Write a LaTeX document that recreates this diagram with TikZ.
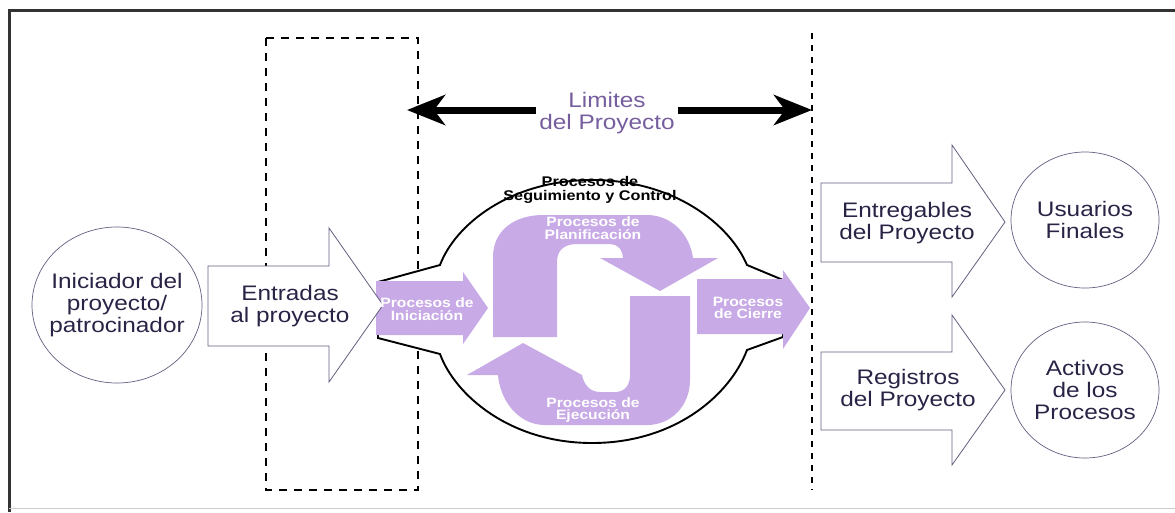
\documentclass[tikz,border=0pt]{standalone}
\usepackage{fontspec}
\setmainfont{Liberation Sans}[FakeStretch=1.16]
\usepackage{tikz}
\usetikzlibrary{arrows.meta,shapes.geometric}
\definecolor{lila}{RGB}{200,170,230}
\definecolor{tinte}{RGB}{43,35,70}
\definecolor{limite}{RGB}{118,94,158}
\definecolor{trazo}{RGB}{100,94,128}

\begin{document}
\begin{tikzpicture}[x=1pt,y=-1pt,
  blockarrow/.style={draw=trazo,line width=0.8pt,fill=white,line join=miter},
  procarrow/.style={fill=lila},
  roundnode/.style={ellipse,draw=trazo,line width=0.7pt,minimum width=148pt,minimum height=136pt,inner sep=0pt},
  lbl/.style={align=center,text=tinte,font=\fontsize{21}{22}\selectfont},
  proclbl/.style={align=center,text=white,font=\fontsize{13.5}{12.5}\selectfont\bfseries},
  limitarrow/.style={line width=7pt,-{Stealth[length=38pt,width=30pt,inset=11pt]}},
  boundary/.style={dash pattern=on 8pt off 7pt,line width=2pt}]
\useasboundingbox (0,0) rectangle (1175,512);
\draw[line width=3pt,black!80] (1175,10) -- (9,10) -- (9,512);
\draw[black!20,line width=1pt] (9,508) -- (1175,508);

\draw[boundary] (266,38) rectangle (418,490);
\draw[boundary,dash pattern=on 6pt off 6pt] (812,33) -- (812,490);

\draw[fill=white,line width=1.9pt] (378,282) -- (440,265) .. controls (455,225) and (510,180) .. (592,180)
  .. controls (675,180) and (730,225) .. (747,265) -- (783,280) -- (783,337) -- (747,350)
  .. controls (730,395) and (675,443) .. (592,443) .. controls (510,443) and (455,395) .. (440,354)
  -- (378,338) -- cycle;

\fill[procarrow] (376,281) -- (463,281) -- (463,272) -- (488,308) -- (463,344) -- (463,335) -- (376,335) -- cycle;
\fill[procarrow] (697,279) -- (783,279) -- (783,270) -- (810,308) -- (783,349) -- (783,334) -- (697,334) -- cycle;
\fill[procarrow] (493,337) -- (493,257) .. controls (493,230) and (515,215) .. (543,215) -- (647,215)
  .. controls (672,215) and (690,235) .. (693,258) -- (718,258) -- (660,291) -- (600,258) -- (623,258)
  .. controls (622,250) and (620,245) .. (610,244) -- (575,244) .. controls (562,245) and (557,252) .. (557,262)
  -- (557,337) -- cycle;
\fill[procarrow] (690,296) -- (690,380) .. controls (690,405) and (672,425) .. (647,425) -- (545,425)
  .. controls (518,425) and (500,400) .. (498,375) -- (467,375) -- (523,343) -- (582,375)
  .. controls (584,385) and (590,392) .. (600,392) -- (615,392) .. controls (625,392) and (630,385) .. (630,375)
  -- (630,296) -- cycle;

\draw[blockarrow] (208,266) -- (329,266) -- (329,228) -- (383,305) -- (329,382) -- (329,346) -- (208,346) -- cycle;
\draw[blockarrow] (821,183) -- (952,183) -- (952,145) -- (1005,222) -- (952,297) -- (952,262) -- (821,262) -- cycle;
\draw[blockarrow] (821,352) -- (952,352) -- (952,315) -- (1005,390) -- (952,465) -- (952,430) -- (821,430) -- cycle;

\node[roundnode,minimum width=170pt,minimum height=156pt,label={[lbl]center:Iniciador del\\proyecto/\\patrocinador}] (iniciador) at (117,305) {};
\node[roundnode,label={[lbl]center:Usuarios\\Finales}] (usuarios) at (1085,220) {};
\node[roundnode,label={[lbl]center:Activos\\de los\\Procesos}] (activos) at (1085,390) {};

\node[lbl] (entradas) at (290,306) {Entradas\\al proyecto};
\node[lbl] (entregables) at (907,223) {Entregables\\del Proyecto};
\node[lbl] (registros) at (908,390) {Registros\\del Proyecto};

\node[align=center,text=black,font=\fontsize{14}{14}\selectfont\bfseries] (seguimiento) at (590,190) {Procesos de\\Seguimiento y Control};
\node[proclbl] (iniciacion) at (427,309) {Procesos de\\Iniciación};
\node[proclbl] (planificacion) at (593,228) {Procesos de\\Planificación};
\node[proclbl] (ejecucion) at (593,410) {Procesos de\\Ejecución};
\node[proclbl] (cierre) at (748,308) {Procesos\\de Cierre};

\node[lbl,text=limite] (limites) at (607,113) {Limites\\del Proyecto};
\coordinate (limL) at (407,110);
\coordinate (limR) at (812,110);
\draw[limitarrow] (limites.west |- limL) -- (limL);
\draw[limitarrow] (limites.east |- limR) -- (limR);
\end{tikzpicture}
\end{document}
